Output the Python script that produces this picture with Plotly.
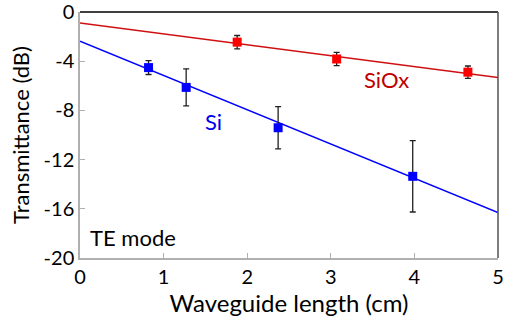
import plotly.graph_objects as go

# measured points
si_len = [0.82, 1.27, 2.37, 3.98]
si_db = [-4.52, -6.13, -9.41, -13.36]
si_err = [0.56, 1.5, 1.72, 2.9]

siox_len = [1.88, 3.07, 4.64]
siox_db = [-2.45, -3.82, -4.89]
siox_err = [0.54, 0.54, 0.5]

# linear fits (read at x = 0 and x = 5)
fit_len = [0, 5]
si_fit = [-2.37, -16.3]
siox_fit = [-0.89, -5.32]

x_ticks = [0, 1, 2, 3, 4, 5]
y_ticks = [0, -4, -8, -12, -16, -20]

FONT = "Lato, 'Noto Sans', sans-serif"
ERR = dict(type="data", symmetric=True, color="#202020", thickness=1.3, width=3)

fig = go.Figure()
fig.add_trace(go.Scatter(x=fit_len, y=siox_fit, mode="lines",
                         line=dict(color="#d01010", width=1.5), showlegend=False))
fig.add_trace(go.Scatter(x=fit_len, y=si_fit, mode="lines",
                         line=dict(color="#0000ff", width=1.5), showlegend=False))
fig.add_trace(go.Scatter(x=siox_len, y=siox_db, mode="markers",
                         error_y=dict(array=siox_err, **ERR),
                         marker=dict(symbol="square", size=9, color="#ff0000"),
                         showlegend=False))
fig.add_trace(go.Scatter(x=si_len, y=si_db, mode="markers",
                         error_y=dict(array=si_err, **ERR),
                         marker=dict(symbol="square", size=9, color="#0000ff"),
                         showlegend=False))

fig.add_annotation(x=3.67, y=-5.45, text="SiOx", showarrow=False,
                   font=dict(size=22, color="#c00000", family=FONT))
fig.add_annotation(x=1.6, y=-8.9, text="Si", showarrow=False,
                   font=dict(size=22, color="#0000ee", family=FONT))
fig.add_annotation(x=0.1, y=-18.3, text="TE mode", showarrow=False, xanchor="left",
                   font=dict(size=22, color="#000000", family=FONT))

# frame: top black, right dark gray
fig.add_shape(type="line", xref="paper", yref="paper", x0=0, x1=1, y0=1, y1=1,
              line=dict(color="#000000", width=1.5))
fig.add_shape(type="line", xref="paper", yref="paper", x0=1, x1=1, y0=0, y1=1,
              line=dict(color="#505050", width=1.5))

fig.update_layout(
    width=505, height=324,
    margin=dict(l=80, r=7, t=12, b=66),
    plot_bgcolor="white", paper_bgcolor="white",
    font=dict(family=FONT, color="#000000"),
)
fig.update_xaxes(
    range=[0, 5], tickvals=x_ticks, ticktext=[str(v) for v in x_ticks],
    showgrid=False, zeroline=False, automargin=False, ticklabeloverflow="allow",
    showline=True, linecolor="#b0b0b0", linewidth=1.5,
    ticks="inside", ticklen=5, tickcolor="#b0b0b0",
    tickfont=dict(size=20),
    title=dict(text="Waveguide length (cm)", font=dict(size=24), standoff=6),
)
fig.update_yaxes(
    range=[-20, 0], tickvals=y_ticks, ticktext=[str(v) for v in y_ticks],
    showgrid=False, zeroline=False, automargin=False, ticklabeloverflow="allow",
    showline=True, linecolor="#b0b0b0", linewidth=1.5,
    ticks="inside", ticklen=5, tickcolor="#b0b0b0",
    tickfont=dict(size=20),
    title=dict(text="Transmittance (dB)", font=dict(size=22), standoff=8),
)

fig.write_html("out.html", config={"displayModeBar": False},
               post_script="document.body.style.margin='0';")
